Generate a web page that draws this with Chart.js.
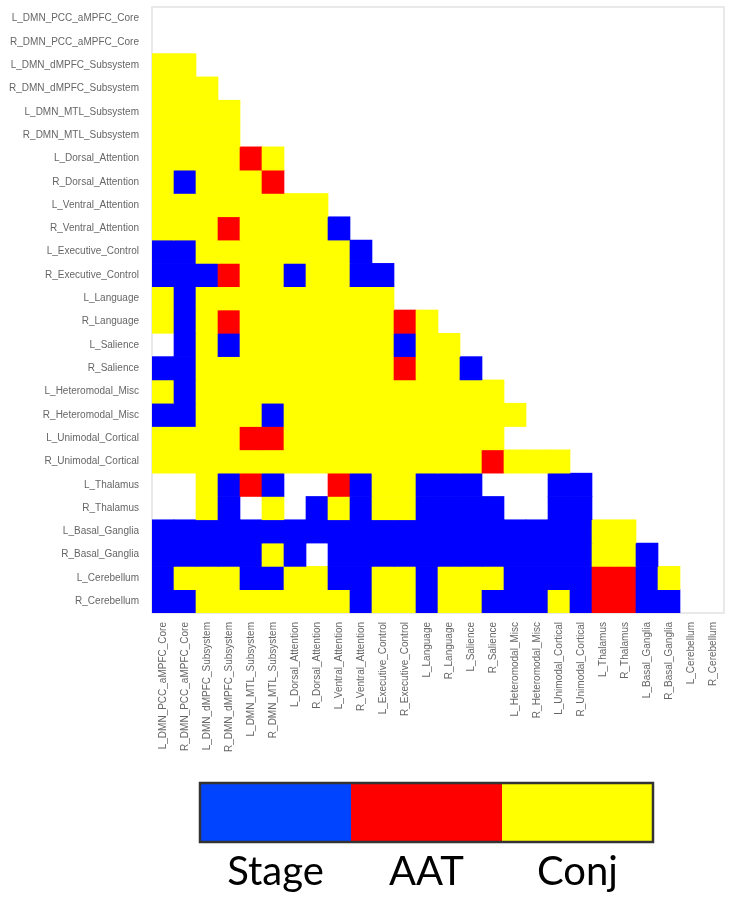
<!DOCTYPE html>
<html>
<head>
<meta charset="utf-8">
<script src="https://cdn.jsdelivr.net/npm/chart.js@4.4.1/dist/chart.umd.min.js"></script>
<style>
html,body{margin:0;padding:0;background:#fff;}
#wrap{position:relative;width:730px;height:899px;}
</style>
</head>
<body>
<div id="wrap"><canvas id="ConnChart" width="730" height="899"></canvas></div>
<script>
// region names, used for both rows and columns
const regions = [
  'L_DMN_PCC_aMPFC_Core', 'R_DMN_PCC_aMPFC_Core',
  'L_DMN_dMPFC_Subsystem', 'R_DMN_dMPFC_Subsystem',
  'L_DMN_MTL_Subsystem', 'R_DMN_MTL_Subsystem',
  'L_Dorsal_Attention', 'R_Dorsal_Attention',
  'L_Ventral_Attention', 'R_Ventral_Attention',
  'L_Executive_Control', 'R_Executive_Control',
  'L_Language', 'R_Language',
  'L_Salience', 'R_Salience',
  'L_Heteromodal_Misc', 'R_Heteromodal_Misc',
  'L_Unimodal_Cortical', 'R_Unimodal_Cortical',
  'L_Thalamus', 'R_Thalamus',
  'L_Basal_Ganglia', 'R_Basal_Ganglia',
  'L_Cerebellum', 'R_Cerebellum'
];

// lower triangle, one string per row: S = Stage, A = AAT, C = Conj, . = none
const cellCodes = [
  '',
  '.',
  'CC',
  'CCC',
  'CCCC',
  'CCCC.',
  'CCCCAC',
  'CSCCCA.',
  'CCCCCCCC',
  'CCCACCCCS',
  'SSCCCCCCCS',
  'SSSACCSCCSS',
  'CSCCCCCCCCC.',
  'CSCACCCCCCCAC',
  '.SCSCCCCCCCSCC',
  'SSCCCCCCCCCACCS',
  'CSCCCCCCCCCCCCCC',
  'SSCCCSCCCCCCCCCCC',
  'CCCCAACCCCCCCCCC..',
  'CCCCCCCCCCCCCCCACCC',
  '..CSAS..ASCCSSS...SS',
  '..CS.C.SCSCCSSSS..SS.',
  'SSSSSSSSSSSSSSSSSSSSCC',
  'SSSSSCS.SSSSSSSSSSSSCCS',
  'SCCCSSCCSSCCSCCCSSSSAASC',
  'SSCCCCCCCSCCSCCSSSCSAASS.'
];

const legendLabels = ['Stage', 'AAT', 'Conj'];
const legendColors = ['#0044ff', '#ff0000', '#ffff00'];
const cellColors = {S: '#0000ff', A: '#ff0000', C: '#ffff00'};

// each row is a dataset of floating bars [row, row+1] on the column categories
const datasets = cellCodes.map((row, i) => ({
  label: regions[i],
  data: regions.map((r, j) => (cellColors[row[j]] ? [i, i + 1] : null)),
  backgroundColor: regions.map((r, j) => cellColors[row[j]] || 'rgba(0,0,0,0)'),
  borderWidth: 0,
  barPercentage: 1,
  categoryPercentage: 1,
  grouped: false
}));

const framePlugin = {
  id: 'frame',
  beforeDatasetsDraw(chart) {
    const {ctx, chartArea: a} = chart;
    ctx.save();
    ctx.strokeStyle = '#e2e2e2';
    ctx.lineWidth = 1.5;
    ctx.strokeRect(a.left, a.top, a.right - a.left, a.bottom - a.top);
    ctx.restore();
  }
};

// colour bar key under the matrix
const keyPlugin = {
  id: 'colorKey',
  afterDraw(chart) {
    const ctx = chart.ctx;
    const x0 = 200, y0 = 783, w = 151, h = 59;
    ctx.save();
    legendColors.forEach((c, k) => {
      ctx.fillStyle = c;
      ctx.fillRect(x0 + k * w, y0, w, h);
    });
    ctx.strokeStyle = '#333';
    ctx.lineWidth = 2.5;
    ctx.strokeRect(x0, y0, w * 3, h);
    ctx.fillStyle = '#000';
    ctx.font = '40px Lato';
    ctx.textAlign = 'center';
    ctx.textBaseline = 'alphabetic';
    legendLabels.forEach((t, k) => {
      ctx.fillText(t, x0 + k * w + w / 2, 885);
    });
    ctx.restore();
  }
};

const ctx = document.getElementById('ConnChart').getContext('2d');
new Chart(ctx, {
  type: 'bar',
  data: {labels: regions, datasets: datasets},
  options: {
    responsive: false,
    animation: false,
    layout: {padding: {top: 7, right: 6, bottom: 116, left: 0}},
    plugins: {legend: {display: false}, tooltip: {enabled: false}},
    scales: {
      x: {
        type: 'category',
        grid: {display: false},
        border: {display: false},
        ticks: {
          autoSkip: false, maxRotation: 90, minRotation: 90, padding: 1,
          color: '#666', font: {family: 'Liberation Sans', size: 10}
        },
        afterFit(scale) {
          scale.height = 170;
          scale.paddingLeft = 0;
          scale.paddingRight = 0;
        }
      },
      y: {
        type: 'linear',
        min: 0, max: 26, reverse: true,
        grid: {display: false},
        border: {display: false},
        afterBuildTicks(axis) {
          axis.ticks = regions.map((r, i) => ({value: i + 0.5}));
        },
        ticks: {
          autoSkip: false, padding: 5,
          color: '#666', font: {family: 'Liberation Sans', size: 10},
          callback: (v, i) => regions[i]
        },
        afterFit(scale) {
          scale.width = 152;
          scale.paddingTop = 0;
          scale.paddingBottom = 0;
        }
      }
    }
  },
  plugins: [framePlugin, keyPlugin]
});
</script>
</body>
</html>
